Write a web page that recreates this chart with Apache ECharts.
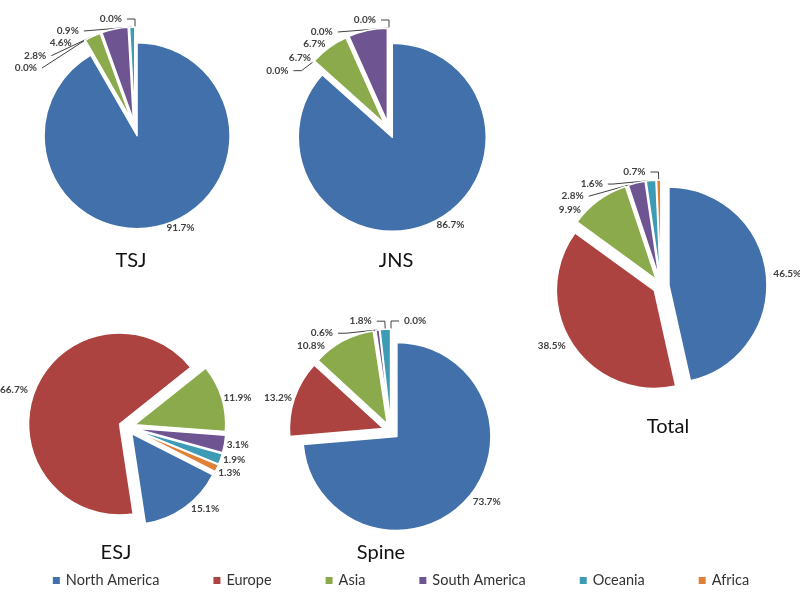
<!DOCTYPE html>
<html>
<head>
<meta charset="utf-8">
<title>Region share by journal</title>
<script src="https://cdn.jsdelivr.net/npm/echarts@6/dist/echarts.min.js"></script>
<style>
  html, body { margin: 0; padding: 0; background: #fff; }
  #chart { width: 800px; height: 607px; }
</style>
</head>
<body>
<div id="chart"></div>
<script>
// regions (legend order)
const regions = ['North America', 'Europe', 'Asia', 'South America', 'Oceania', 'Africa'];

// percent share per journal, same order as regions
const tsjValues = [91.7, 0.0, 2.8, 4.6, 0.9, 0.0];
const jnsValues = [86.7, 0.0, 6.7, 6.7, 0.0, 0.0];
const esjValues = [15.1, 66.7, 11.9, 3.1, 1.9, 1.3];
const spineValues = [73.7, 13.2, 10.8, 0.6, 1.8, 0.0];
const totalValues = [46.5, 38.5, 9.9, 2.8, 1.6, 0.7];

const chartNames = ['TSJ', 'JNS', 'ESJ', 'Spine', 'Total'];

const colors = ['#4170aa', '#ad4340', '#8aaa4b', '#6e5592', '#3e9bb5', '#e0813a'];
const FONT = 'Lato, "Open Sans", sans-serif';

function buildData(values, lines) {
  return values.map((v, i) => {
    const small = lines && v < 3;
    return {
      name: regions[i],
      value: v,
      selected: true,
      // tiny slices get a leader line, the others sit right at the rim
      labelLine: small ? { show: true, length: 8, length2: 8 } : { show: false, length: 2, length2: 0 }
    };
  });
}

function pieSeries(name, values, center, radius, startAngle, lines) {
  return {
    name: name,
    type: 'pie',
    center: center,
    radius: radius,
    startAngle: startAngle,
    clockwise: true,
    selectedMode: 'multiple',
    selectedOffset: 8,
    avoidLabelOverlap: true,
    itemStyle: { borderColor: '#fff', borderWidth: 1.5 },
    select: { itemStyle: { borderColor: '#fff', borderWidth: 1.5 } },
    emphasis: { disabled: true },
    label: {
      show: true,
      position: 'outside',
      overflow: 'none',
      fontFamily: FONT,
      fontSize: 10,
      fontWeight: 'bold',
      color: '#404040',
      formatter: p => p.value.toFixed(1) + '%'
    },
    labelLine: { lineStyle: { color: '#404040', width: 1 } },
    data: buildData(values, lines)
  };
}

const chart = echarts.init(document.getElementById('chart'));

// chart names under each pie
const titleSpots = [[131, 261], [396, 261], [116, 553], [381, 553], [668, 427]];

const option = {
  color: colors,
  animation: false,
  legend: {
    data: regions,
    bottom: 14,
    left: 'center',
    icon: 'rect',
    itemWidth: 9,
    itemHeight: 9,
    itemGap: 52,
    textStyle: { fontFamily: FONT, fontSize: 14.5, color: '#333' },
    selectedMode: false
  },
  graphic: chartNames.map((n, i) => ({
    type: 'text',
    x: titleSpots[i][0],
    y: titleSpots[i][1],
    style: {
      text: n,
      fill: '#111',
      font: '20px ' + FONT,
      align: 'center',
      verticalAlign: 'middle'
    }
  })),
  series: [
    pieSeries('TSJ', tsjValues, [135, 128], 93, 90, true),
    pieSeries('JNS', jnsValues, [389, 130], 94, 90, true),
    pieSeries('ESJ', esjValues, [127, 427], 91, -27, false),
    pieSeries('Spine', spineValues, [391, 431], 94, 90, true),
    pieSeries('Total', totalValues, [661, 286], 98, 90, true)
  ]
};

chart.setOption(option);
</script>
</body>
</html>
